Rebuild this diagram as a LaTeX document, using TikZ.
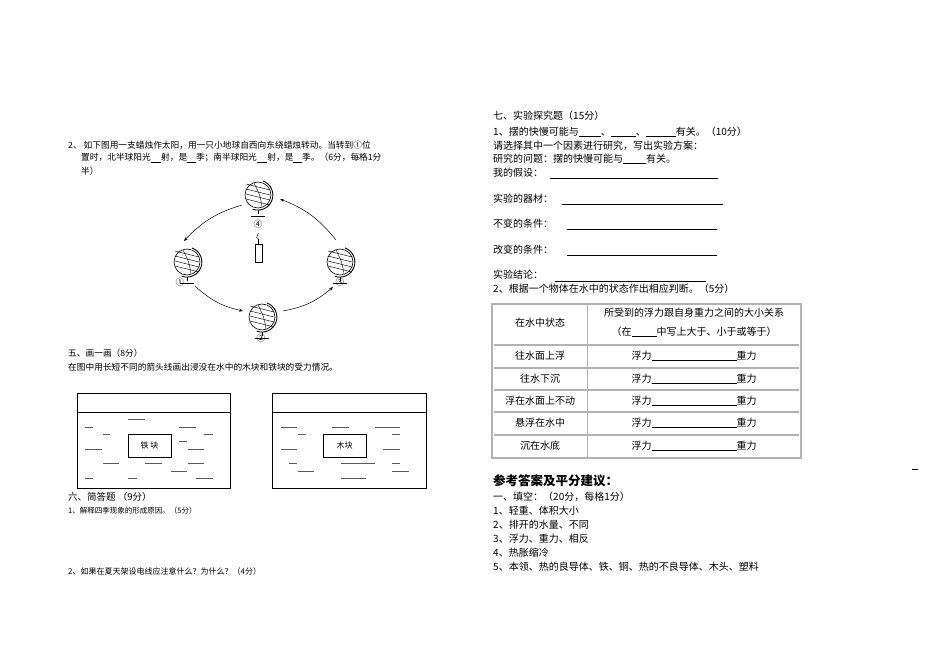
\documentclass[tikz,border=0pt]{standalone}
\usepackage{fontspec}
\setmainfont{Liberation Serif}
\newfontfamily\cjk{Noto Sans CJK SC}
\usetikzlibrary{arrows.meta}
\newcommand{\bl}[1]{\underline{\hspace{#1}}}
\begin{document}
\begin{tikzpicture}[x=1pt,y=-1pt,
  txt/.style={anchor=west,inner sep=0pt,font=\cjk\fontsize{8.7}{10}\selectfont},
  rtxt/.style={anchor=west,inner sep=0pt,font=\cjk\fontsize{10}{12}\selectfont},
  ctxt/.style={inner sep=0pt,font=\cjk\fontsize{10}{12}\selectfont},
  orbit/.style={-{Stealth[length=4pt]},line width=0.5pt},
  wave/.style={line width=0.6pt,gray!70!black},
  globe/.pic={
    \draw[line width=0.6pt] (0,0) circle (13pt);
    \foreach \d in {-8,-3,2,7}{\draw[line width=0.4pt] (-12,\d-3) -- (12,\d+3);}
    \draw[line width=0.4pt] (-4,-12) .. controls (2,0) .. (4,12);
    \draw[line width=0.9pt] (5,-14) arc (70:-110:15pt);
    \draw[line width=1pt] (0,15) -- (0,19);
    \draw[line width=0.8pt] (-7,21) -- (7,21);
  }]
\useasboundingbox (0,0) rectangle (950,671);
\fill[white] (0,0) rectangle (950,671);
% left question 2
\node[txt] (q2a) at (68,145) {2、 如下图用一支蜡烛作太阳，用一只小地球自西向东绕蜡烛转动。当转到①位};
\node[txt] (q2b) at (81,158) {置时，北半球阳光\bl{1.2em}射，是\bl{1em}季；南半球阳光\bl{1.2em}射，是\bl{1em}季。（6分，每格1分};
\node[txt] (q2c) at (81,171) {半）};
% globes
\pic at (258,195) {globe};
\pic at (187,262) {globe};
\pic at (340,262) {globe};
\pic at (262,317) {globe};
\node[txt,anchor=center] (l4) at (258,224) {④};
\node[txt,anchor=center] (l1) at (180,282) {①};
\node[txt,anchor=center] (l3) at (340,282) {③};
\node[txt,anchor=center] (l2) at (261,338) {②};
\coordinate (o4a) at (242,205); \coordinate (o1a) at (184,241);
\coordinate (o1b) at (195,286); \coordinate (o2a) at (243,311);
\coordinate (o2b) at (283,311); \coordinate (o3a) at (333,287);
\coordinate (o3b) at (336,240); \coordinate (o4b) at (280,199);
\draw[orbit] (o4a) to[bend right=15] (o1a);
\draw[orbit] (o1b) to[bend right=15] (o2a);
\draw[orbit] (o2b) to[bend right=15] (o3a);
\draw[orbit] (o3b) to[bend right=15] (o4b);
% candle
\draw[line width=0.5pt] (255,244) rectangle (262,262);
\draw[line width=0.5pt] (258.5,244) -- (258.5,239);
\draw[line width=0.4pt] (258.5,233) .. controls (256,238) .. (258.5,239);
% section 5
\node[txt] (s5) at (68,353) {五、画一画（8分）};
\node[txt] (s5b) at (68,367) {在图中用长短不同的箭头线画出浸没在水中的木块和铁块的受力情况。};
% water boxes
\draw[line width=0.6pt] (77,393) rectangle (230,488); \draw[line width=0.6pt] (77,412) -- (230,412);
\draw[line width=0.6pt] (272,393) rectangle (426,488); \draw[line width=0.6pt] (272,412) -- (426,412);
\node[draw,line width=0.6pt,minimum width=43pt,minimum height=23pt,inner sep=0pt,font=\cjk\fontsize{8}{9}\selectfont] (iron) at (149.5,445.5) {铁 块};
\node[draw,line width=0.6pt,minimum width=43pt,minimum height=23pt,inner sep=0pt,font=\cjk\fontsize{8}{9}\selectfont] (wood) at (344.5,445.5) {木块};
\foreach \a/\b/\y in {85/93/427,128/145/419,179/196/427,103/110/434,204/213/434,179/187/441,85/102/449,188/204/449,103/119/463,145/162/463,188/204/463,171/187/471,85/93/478,128/137/478,196/213/478,
 281/297/427,332/349/427,375/400/427,298/306/434,392/400/434,281/297/449,383/400/449,289/297/463,341/375/463,392/400/463,298/314/471,392/409/471,341/366/478}
  {\draw[wave] (\a,\y) -- (\b,\y);}
% section 6
\node[txt,font=\cjk\fontsize{9.5}{11}\selectfont] (s6) at (68,497) {六、简答题 （9分）};
\node[txt,font=\cjk\fontsize{7.5}{9}\selectfont] (s6a) at (68,511) {1、解释四季现象的形成原因。（5分）};
\node[txt,font=\cjk\fontsize{8}{9}\selectfont] (s6b) at (68,571) {2、如果在夏天架设电线应注意什么？为什么？（4分）};
% section 7
\node[rtxt] (s7) at (493,116) {七、实验探究题（15分）};
\node[rtxt] (s7a) at (493,132) {1、摆的快慢可能与\bl{2.2em}、\bl{2.5em}、\bl{3em}有关。（10分）};
\node[rtxt] (s7b) at (493,146) {请选择其中一个因素进行研究，写出实验方案：};
\node[rtxt] (s7c) at (493,159) {研究的问题：摆的快慢可能与\bl{2.3em}有关。};
\node[rtxt] (s7d) at (493,173) {我的假设：};
\draw[line width=0.5pt] (550,178) -- (718,178);
\node[rtxt] (s7e) at (493,199) {实验的器材：};
\draw[line width=0.5pt] (562,204) -- (723,204);
\node[rtxt] (s7f) at (493,224) {不变的条件：};
\draw[line width=0.5pt] (567,229) -- (717,229);
\node[rtxt] (s7g) at (493,250) {改变的条件：};
\draw[line width=0.5pt] (567,255) -- (717,255);
\node[rtxt] (s7h) at (493,275) {实验结论：};
\draw[line width=0.5pt] (555,281) -- (706,281);
\node[rtxt] (s7i) at (493,289) {2、根据一个物体在水中的状态作出相应判断。（5分）};
% table
\draw[gray!60,line width=1.2pt] (492,304) rectangle (801,458);
\foreach \y in {345,368,390,412,435}{\draw[gray!60,line width=1.4pt] (494,\y) -- (799,\y);}
\draw[gray!60,line width=1pt] (587,304) -- (587,458);
\node[ctxt] (h1) at (540,323) {在水中状态};
\node[ctxt] (h2) at (694,313) {所受到的浮力跟自身重力之间的大小关系};
\node[ctxt] (h3) at (694,332) {（在\bl{2.5em}中写上大于、小于或等于）};
\foreach \y/\t in {356/往水面上浮,379/往水下沉,401/浮在水面上不动,423/悬浮在水中,446/沉在水底}{
  \node[ctxt] at (540,\y) {\t};
  \node[ctxt] at (694,\y) {浮力\bl{8.5em}重力};
}
% answers
\node[rtxt,font=\cjk\bfseries\fontsize{12.5}{14}\selectfont] (ans) at (493,481) {参考答案及平分建议：};
\node[rtxt] (a0) at (493,497) {一、填空：（20分，每格1分）};
\node[rtxt] (a1) at (493,511) {1、轻重、体积大小};
\node[rtxt] (a2) at (493,525) {2、排开的水量、不同};
\node[rtxt] (a3) at (493,539) {3、浮力、重力、相反};
\node[rtxt] (a4) at (493,553) {4、热胀缩冷};
\node[rtxt] (a5) at (493,567) {5、本领、热的良导体、铁、铜、热的不良导体、木头、塑料};
\draw[line width=0.5pt] (912,469) -- (918,469);
\end{tikzpicture}
\end{document}
